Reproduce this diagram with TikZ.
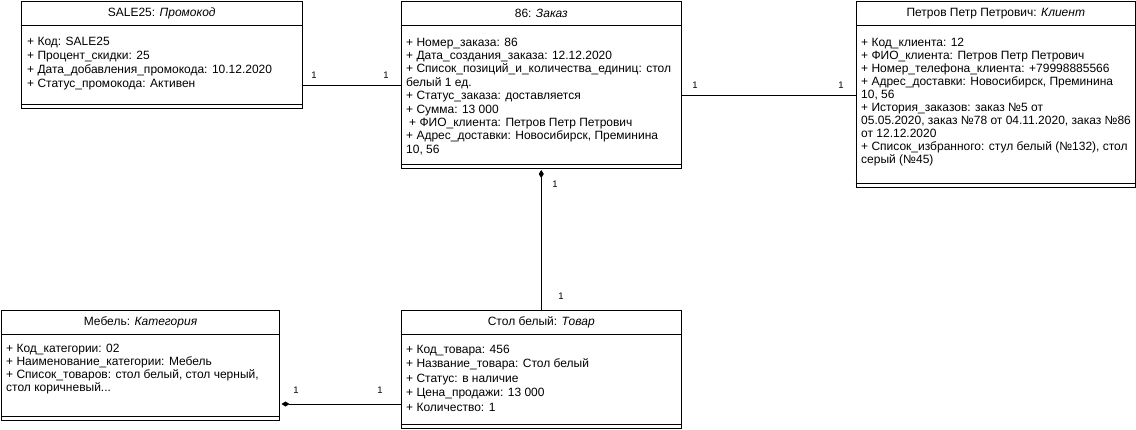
\documentclass[tikz,border=0pt]{standalone}
\usepackage{fontspec}
\setmainfont{Liberation Sans}
\usetikzlibrary{arrows.meta}
\begin{document}
\begin{tikzpicture}[x=1pt,y=-1pt,
  box/.style={draw,line width=1pt,anchor=north west,inner sep=0pt},
  ttl/.style={font=\fontsize{12}{14}\selectfont,inner sep=0pt},
  attr/.style={font=\fontsize{12}{13.4}\selectfont,align=left,anchor=north west,inner sep=0pt},
  mult/.style={font=\fontsize{9.5}{10}\selectfont,inner sep=0pt},
  sep/.style={line width=1pt},
  link/.style={line width=0.9pt},
  comp/.style={link,{Diamond[length=8pt,width=5pt]}-,shorten <=1.5pt}
]
\useasboundingbox (0,0) rectangle (1136,429);
% boxes
\node[box,minimum width=281.5pt,minimum height=107pt] (promo) at (20.5,1) {};
\node[box,minimum width=280.5pt,minimum height=166.5pt] (zak) at (400.5,1) {};
\node[box,minimum width=279.5pt,minimum height=186pt] (kli) at (855.5,1) {};
\node[box,minimum width=278pt,minimum height=110pt] (meb) at (1,310) {};
\node[box,minimum width=280.5pt,minimum height=118pt] (tov) at (400.5,310) {};
% separators
\foreach \b in {promo,zak,kli,meb,tov}{
  \draw[sep] ([yshift=-24pt]\b.north west) -- ([yshift=-24pt]\b.north east);
  \draw[sep] ([yshift=4.5pt]\b.south west) -- ([yshift=4.5pt]\b.south east);
}
% titles
\node[ttl] (promoT) at ([yshift=-12.5pt]promo.north) {SALE25: \textit{Промокод}};
\node[ttl] (zakT) at ([yshift=-12.5pt]zak.north) {86: \textit{Заказ}};
\node[ttl] (kliT) at ([yshift=-12.5pt]kli.north) {Петров Петр Петрович: \textit{Клиент}};
\node[ttl] (mebT) at ([yshift=-12.5pt]meb.north) {Мебель: \textit{Категория}};
\node[ttl] (tovT) at ([yshift=-12.5pt]tov.north) {Стол белый: \textit{Товар}};
% attributes
\node[attr,font=\fontsize{12}{14}\selectfont] (promoA) at (27,36.5) {+ Код: SALE25\\+ Процент\_скидки: 25\\+ Дата\_добавления\_промокода: 10.12.2020\\+ Статус\_промокода: Активен};
\node[attr] (zakA) at (406,37.5) {+ Номер\_заказа: 86\\+ Дата\_создания\_заказа: 12.12.2020\\+ Список\_позиций\_и\_количества\_единиц: стол\\белый 1 ед.\\+ Статус\_заказа: доставляется\\+ Сумма: 13 000\\\hspace{3pt}+ ФИО\_клиента: Петров Петр Петрович\\+ Адрес\_доставки: Новосибирск, Преминина\\10, 56};
\node[attr,font=\fontsize{12}{13.1}\selectfont] (kliA) at (861,37.5) {+ Код\_клиента: 12\\+ ФИО\_клиента: Петров Петр Петрович\\+ Номер\_телефона\_клиента: +79998885566\\+ Адрес\_доставки: Новосибирск, Преминина\\10, 56\\+ История\_заказов: заказ №5 от\\05.05.2020, заказ №78 от 04.11.2020, заказ №86\\от 12.12.2020\\+ Список\_избранного: стул белый (№132), стол\\серый (№45)};
\node[attr,font=\fontsize{12}{12.9}\selectfont] (mebA) at (6,344) {+ Код\_категории: 02\\+ Наименование\_категории: Мебель\\+ Список\_товаров: стол белый, стол черный,\\стол коричневый...};
\node[attr,font=\fontsize{12}{14.4}\selectfont] (tovA) at (406,345) {+ Код\_товара: 456\\+ Название\_товара: Стол белый\\+ Статус: в наличие\\+ Цена\_продажи: 13 000\\+ Количество: 1};
% connectors
\coordinate (y1) at (0,85.5);
\coordinate (y2) at (0,95);
\coordinate (y3) at (0,404);
\draw[link] (promo.east |- y1) -- (zak.west |- y1);
\draw[link] (zak.east |- y2) -- (kli.west |- y2);
\draw[comp] (zak.south) -- (tov.north);
\draw[comp] (meb.east |- y3) -- (tov.west |- y3);
% multiplicities
\node[mult] (m1) at (314,75) {1};
\node[mult] (m2) at (386,75) {1};
\node[mult] (m3) at (695,85) {1};
\node[mult] (m4) at (841,85) {1};
\node[mult] (m5) at (555,184) {1};
\node[mult] (m6) at (561,296) {1};
\node[mult] (m7) at (296,390) {1};
\node[mult] (m8) at (380,390) {1};
\end{tikzpicture}
\end{document}
